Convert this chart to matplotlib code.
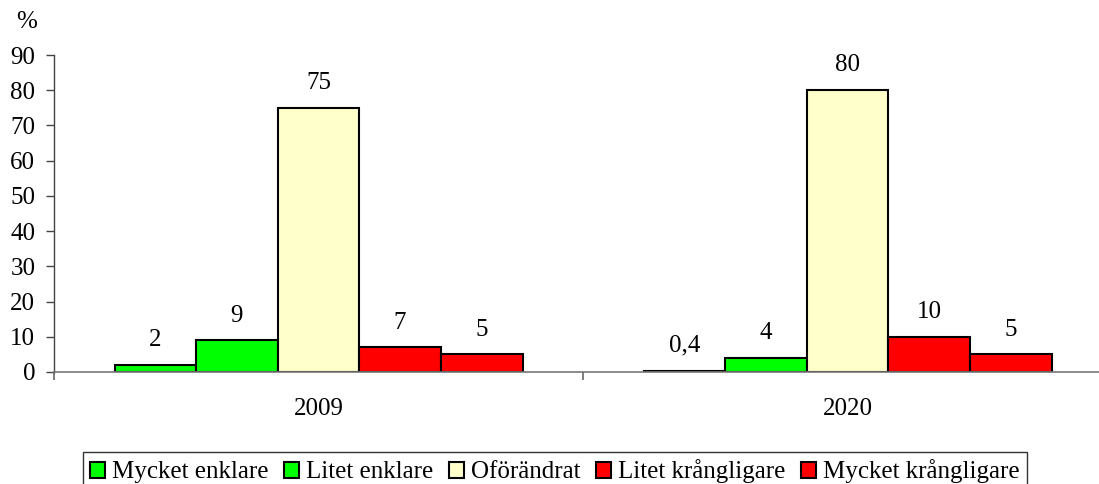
import matplotlib
matplotlib.use("Agg")
import matplotlib.pyplot as plt
import numpy as np

categories = ["2009", "2020"]
series_names = ["Mycket enklare", "Litet enklare", "Oförändrat",
                "Litet krångligare", "Mycket krångligare"]
values_2009 = [2, 9, 75, 7, 5]
values_2020 = [0.4, 4, 80, 10, 5]
value_labels_2009 = ["2", "9", "75", "7", "5"]
value_labels_2020 = ["0,4", "4", "80", "10", "5"]
yticks = [0, 10, 20, 30, 40, 50, 60, 70, 80, 90]
colors = ["#00FF00", "#00FF00", "#FFFFCC", "#FF0000", "#FF0000"]

plt.rcParams['font.family'] = ['Liberation Serif', 'DejaVu Serif']
FS = 18

W, H = 1099, 484
fig = plt.figure(figsize=(W / 100, H / 100), dpi=100)
left, right_px = 54, 1099
bottom_px, top_px = 372, 55
ax = fig.add_axes([left / W, (H - bottom_px) / H, (right_px - left) / W, (bottom_px - top_px) / H])

cat_px = 529.0
xmax = (right_px - left) / cat_px
centers = np.array([0.5, 1.5])
bw = (523 - 115) / 5 / cat_px

data = [values_2009, values_2020]
labels = [value_labels_2009, value_labels_2020]
for i, name in enumerate(series_names):
    vals = [data[0][i], data[1][i]]
    xs = centers + (i - 2) * bw
    ax.bar(xs, vals, width=bw, color=colors[i], edgecolor='black',
           linewidth=1.5, label=name, zorder=3)
    for x, v, lab in zip(xs, vals, [labels[0][i], labels[1][i]]):
        ax.annotate(lab, (x, v), xytext=(0, 13.5), textcoords='offset points',
                    ha='center', va='baseline', fontsize=FS)

ax.set_yticks(yticks)
ax.set_yticklabels([str(t) for t in yticks], fontsize=FS)
ax.set_xticks([0, 1])
ax.set_xticklabels(["", ""])
ax.set_xticks(centers, minor=True)
ax.set_xticklabels(categories, minor=True, fontsize=FS)
ax.set_xlim(0, xmax)
ax.set_ylim(0, 90)
ax.tick_params(axis='x', which='minor', length=0, pad=19)
ax.tick_params(axis='x', which='major', length=6, width=1.2, color='#666666', direction='out')
ax.tick_params(axis='y', length=5.5, width=1, color='#444444', direction='out', pad=8)

for s in ['top', 'right']:
    ax.spines[s].set_visible(False)
ax.spines['left'].set_color('#444444')
ax.spines['left'].set_linewidth(1)
ax.spines['bottom'].set_color('#777777')
ax.spines['bottom'].set_linewidth(1.2)
ax.spines['bottom'].set_zorder(4)

fig.text(27 / W, 1 - 22 / H, "%", ha='center', va='center', fontsize=FS)

leg = fig.legend(loc='upper center', bbox_to_anchor=(555 / W, 1 - 452 / H),
                 ncol=5, fontsize=FS, frameon=True, fancybox=False,
                 handlelength=0.6, handleheight=0.6, handletextpad=0.28,
                 columnspacing=0.62, borderpad=0.3, borderaxespad=0)
leg.get_frame().set_edgecolor('black')
leg.get_frame().set_linewidth(1)

fig.savefig("out.png", dpi=100)
